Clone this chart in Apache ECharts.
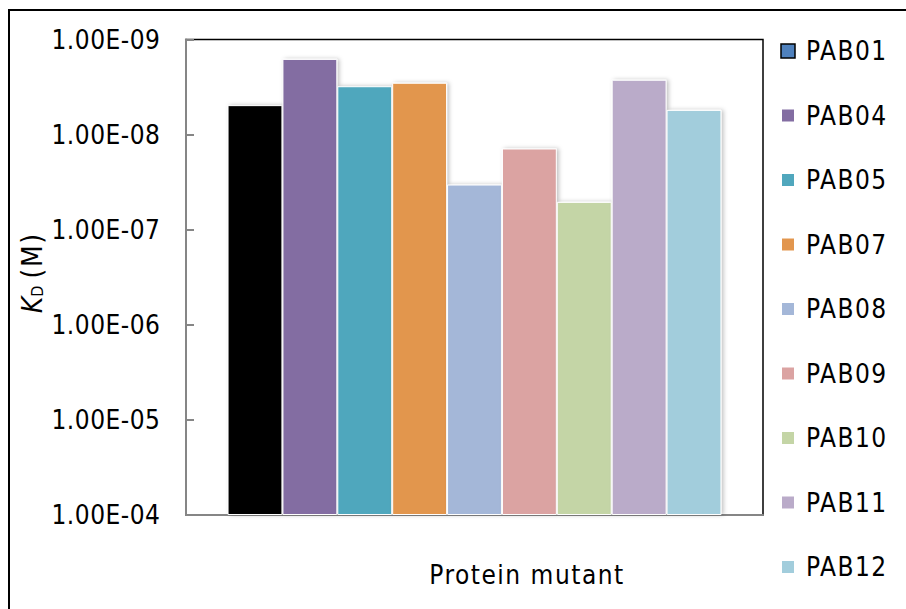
<!DOCTYPE html>
<html>
<head>
<meta charset="utf-8">
<script src="https://cdn.jsdelivr.net/npm/echarts@6/dist/echarts.min.js"></script>
<style>html,body{margin:0;padding:0;background:#fff;}#c{width:906px;height:609px;}#c text{letter-spacing:1.5px;}#c text[text-anchor="end"]{letter-spacing:0.5px;}</style>
</head>
<body>
<div id="c"></div>
<script>
const seriesNames = ['PAB01', 'PAB04', 'PAB05', 'PAB07', 'PAB08', 'PAB09', 'PAB10', 'PAB11', 'PAB12'];
const kdValues = [4.9e-9, 1.6e-9, 3.1e-9, 2.85e-9, 3.35e-8, 1.4e-8, 5.1e-8, 2.65e-9, 5.5e-9];
const tickLabels = ['1.00E-09', '1.00E-08', '1.00E-07', '1.00E-06', '1.00E-05', '1.00E-04'];
const categories = [''];
const barColors = ['#000000', '#836DA2', '#50A7BD', '#E2964E', '#A4B7D8', '#DBA3A2', '#C4D5A6', '#BAABC9', '#A2CDDC'];

const FONT = '"Liberation Sans Narrow", "DejaVu Sans Condensed", "Liberation Sans", sans-serif';

const chart = echarts.init(document.getElementById('c'), null, { renderer: 'svg' });

const series = seriesNames.map((n, i) => ({
  name: n,
  type: 'bar',
  barGap: '0%',
  barCategoryGap: '14.4%',
  clip: true,
  data: [kdValues[i]],
  itemStyle: {
    color: barColors[i],
    borderColor: '#ffffff',
    borderWidth: 1,
    shadowColor: 'rgba(0,0,0,0.25)',
    shadowBlur: 4,
    shadowOffsetX: 2
  }
}));

const legendData = seriesNames.map((n, i) => i === 0
  ? { name: n, itemStyle: { color: '#4F81BD', borderColor: '#000', borderWidth: 1.5 } }
  : { name: n });

chart.setOption({
  animation: false,
  backgroundColor: '#ffffff',
  grid: {
    left: 186, top: 39.5, right: 143, bottom: 94,
    show: true, borderColor: '#000', borderWidth: 1.5, backgroundColor: 'transparent'
  },
  legend: {
    orient: 'vertical',
    left: 780,
    top: 36,
    padding: 0,
    itemWidth: 14,
    itemHeight: 14,
    itemGap: 34.5,
    icon: 'rect',
    data: legendData,
    textStyle: { fontFamily: FONT, fontSize: 26, color: '#000', lineHeight: 30, padding: [0, 0, 0, 6] }
  },
  xAxis: {
    type: 'category',
    data: categories,
    axisLine: { onZero: false, lineStyle: { color: '#868686', width: 2 } },
    axisTick: { show: false },
    axisLabel: { show: false },
    splitLine: { show: false }
  },
  yAxis: {
    type: 'log',
    logBase: 10,
    min: 1e-9,
    max: 1e-4,
    inverse: true,
    startValue: 1e-4,
    axisLine: { show: true, lineStyle: { color: '#868686', width: 2 } },
    axisTick: { show: true, inside: true, length: 8, lineStyle: { color: '#868686', width: 2 } },
    minorTick: { show: false },
    splitLine: { show: false },
    axisLabel: {
      margin: 25.5,
      fontFamily: FONT,
      fontSize: 26,
      color: '#000',
      formatter: function (v) {
        const e = Math.round(Math.log10(v));
        return tickLabels[e + 9] || '';
      }
    }
  },
  graphic: [
    {
      type: 'rect',
      shape: { x: 9, y: 10, width: 1000, height: 700 },
      style: { fill: 'none', stroke: '#000', lineWidth: 2 },
      silent: true
    },
    {
      type: 'text',
      x: 32, y: 274,
      rotation: Math.PI / 2,
      style: {
        text: '{k|K}{d|D}{n| (M)}',
        align: 'center',
        verticalAlign: 'middle',
        rich: {
          k: { fontFamily: FONT, fontSize: 28, fontStyle: 'italic', fill: '#000', lineHeight: 34, verticalAlign: 'middle' },
          d: { fontFamily: FONT, fontSize: 16, fill: '#000', lineHeight: 34, verticalAlign: 'bottom', padding: [0, 0, 4, 0] },
          n: { fontFamily: FONT, fontSize: 28, fill: '#000', lineHeight: 34, verticalAlign: 'middle' }
        }
      }
    },
    {
      type: 'text',
      x: 527, y: 575,
      style: {
        text: 'Protein mutant',
        align: 'center',
        verticalAlign: 'middle',
        fontFamily: FONT,
        fontSize: 26,
        fill: '#000'
      }
    }
  ],
  series: series
});
</script>
</body>
</html>
